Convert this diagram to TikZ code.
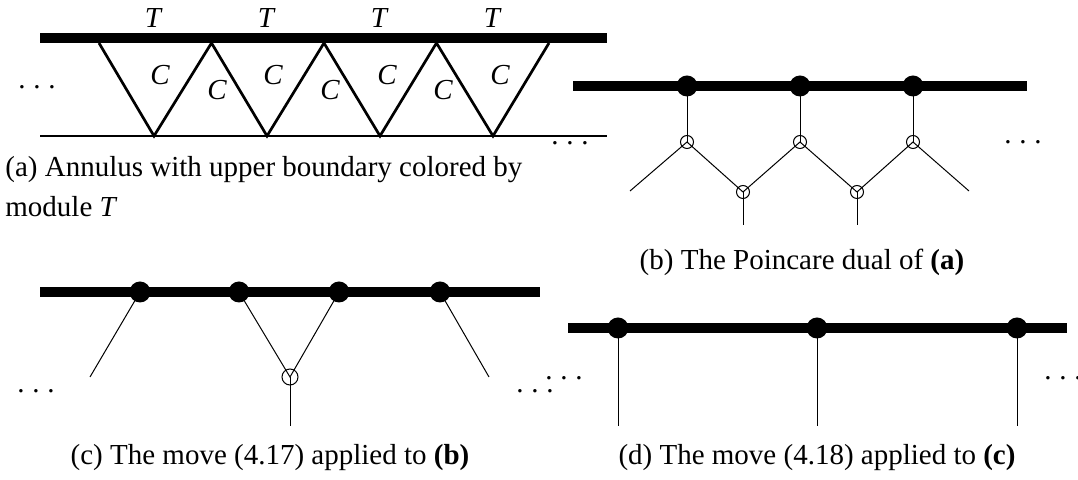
\documentclass[tikz,border=0pt]{standalone}
\usepackage{fontspec}
\setmainfont{Liberation Serif}
\usetikzlibrary{backgrounds}
\begin{document}
\begin{tikzpicture}[x=0.5pt,y=-0.5pt,
  thickbar/.style={line width=5pt},
  tri/.style={line width=1.35pt, line join=miter},
  lowline/.style={line width=1.4pt},
  wire/.style={line width=0.5pt},
  bdot/.style={circle, fill=black, inner sep=0pt, minimum size=10.5pt},
  odot/.style={circle, draw, line width=0.5pt, inner sep=0pt, minimum size=6.5pt},
  odotc/.style={odot, minimum size=8pt},
  lab/.style={font=\fontsize{14.5}{17}\selectfont\itshape, inner sep=0pt},
  captext/.style={font=\fontsize{14.5}{20}\selectfont, inner sep=0pt},
  dotrow/.style={inner sep=0pt, font=\fontsize{14.5}{17}\selectfont}
]
\useasboundingbox (0,0) rectangle (1078,480);
\newcommand{\mydots}{.\kern3.9pt.\kern3.9pt.}

% ---------------- (a) ----------------
\coordinate (aL) at (40,38);  \coordinate (aR) at (607,38);
\coordinate (bL) at (40,136); \coordinate (bR) at (607,136);
\foreach \i/\x in {0/99,1/211.5,2/324,3/436.5,4/549} \coordinate (t\i) at (\x,43);
\foreach \i/\x in {0/154,1/267,2/380,3/493} \coordinate (v\i) at (\x,136);
\draw[tri] (t0) -- (v0) -- (t1) -- (v1) -- (t2) -- (v2) -- (t3) -- (v3) -- (t4);
\draw[thickbar] (aL) -- (aR);
\draw[lowline] (bL) -- (bR);
\foreach \i/\x in {0/153,1/266,2/379,3/492} \node[lab] (T\i) at (\x,18) {T};
\foreach \i/\x in {0/160,1/273,2/387,3/500} \node[lab] (Cu\i) at (\x,75) {C};
\foreach \i/\x in {0/217,1/330,2/443} \node[lab] (Cl\i) at (\x,90) {C};
\node[dotrow] (adL) at (37,87) {\mydots};
\node[dotrow] (adR) at (570,143) {\mydots};
\node[captext, anchor=north west, align=left] (capa) at (5,156)
  {(a) Annulus with upper boundary colored by\\module \textit{T}};

% ---------------- (b) ----------------
\coordinate (bbL) at (573,86); \coordinate (bbR) at (1027,86);
\node[bdot] (B1) at (687,86) {};
\node[bdot] (B2) at (800,86) {};
\node[bdot] (B3) at (913,86) {};
\node[odot] (U1) at (687,142) {};
\node[odot] (U2) at (800,142) {};
\node[odot] (U3) at (913,142) {};
\node[odot] (L1) at (743,192) {};
\node[odot] (L2) at (857,192) {};
\coordinate (E0) at (630,191); \coordinate (E3) at (969,191);
\coordinate (S1) at (743,225); \coordinate (S2) at (857,225);
\begin{scope}[on background layer]
  \draw[thickbar] (bbL) -- (bbR);
  \draw[wire] (B1.center) -- (U1.center);
  \draw[wire] (B2.center) -- (U2.center);
  \draw[wire] (B3.center) -- (U3.center);
  \draw[wire] (E0) -- (U1.center) -- (L1.center) -- (U2.center) -- (L2.center) -- (U3.center) -- (E3);
  \draw[wire] (L1.center) -- (S1);
  \draw[wire] (L2.center) -- (S2);
\end{scope}
\node[dotrow] (bdR) at (1023,142) {\mydots};
\node[captext] (capb) at (802,262) {(b) The Poincare dual of \textbf{(a)}};

% ---------------- (c) ----------------
\coordinate (cbL) at (40,292); \coordinate (cbR) at (540,292);
\node[bdot] (C1) at (140,292) {};
\node[bdot] (C2) at (239,292) {};
\node[bdot] (C3) at (339,292) {};
\node[bdot] (C4) at (440,292) {};
\node[odotc] (O) at (290,377) {};
\coordinate (F1) at (90,377); \coordinate (F4) at (489,377);
\coordinate (F0) at (290,426);
\begin{scope}[on background layer]
  \draw[thickbar] (cbL) -- (cbR);
  \draw[wire] (C1.center) -- (F1);
  \draw[wire] (C4.center) -- (F4);
  \draw[wire] (C2.center) -- (O.center) -- (C3.center);
  \draw[wire] (O.center) -- (F0);
\end{scope}
\node[dotrow] (cdL) at (36,391) {\mydots};
\node[dotrow] (cdR) at (535,391) {\mydots};
\node[captext] (capc) at (270,458) {(c) The move (4.17) applied to \textbf{(b)}};

% ---------------- (d) ----------------
\coordinate (dbL) at (568,328); \coordinate (dbR) at (1067,328);
\node[bdot] (D1) at (618,328) {};
\node[bdot] (D2) at (817,328) {};
\node[bdot] (D3) at (1017,328) {};
\coordinate (G1) at (618,426); \coordinate (G2) at (817,426); \coordinate (G3) at (1017,426);
\begin{scope}[on background layer]
  \draw[thickbar] (dbL) -- (dbR);
  \draw[wire] (D1.center) -- (G1);
  \draw[wire] (D2.center) -- (G2);
  \draw[wire] (D3.center) -- (G3);
\end{scope}
\node[dotrow] (ddL) at (564,378) {\mydots};
\node[dotrow] (ddR) at (1063,378) {\mydots};
\node[captext] (capd) at (817,458) {(d) The move (4.18) applied to \textbf{(c)}};
\end{tikzpicture}
\end{document}
